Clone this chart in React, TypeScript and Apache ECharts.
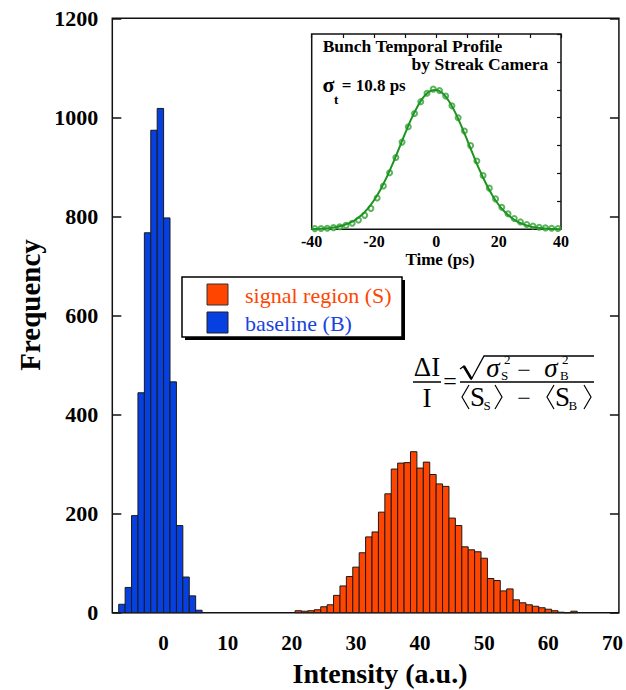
import React, { useEffect, useRef } from "react";
import * as echarts from "echarts";

// ---------- data ----------
const BIN_WIDTH = 1;
const baselineCenters = [-6.5, -5.5, -4.5, -3.5, -2.5, -1.5, -0.5, 0.5, 1.5, 2.5, 3.5, 4.5, 5.5];
const baselineCounts = [17, 51, 196, 444, 767, 974, 1018, 797, 466, 176, 72, 34, 5];

const signalCenters = [
  21, 22, 23, 24, 25, 26, 27, 28, 29, 30,
  31, 32, 33, 34, 35, 36, 37, 38, 39, 40,
  41, 42, 43, 44, 45, 46, 47, 48, 49, 50,
  51, 52, 53, 54, 55, 56, 57, 58, 59, 60,
  61, 62, 63, 64,
];
const signalCounts = [
  4, 3, 4, 6, 12, 16, 35, 54, 73, 92,
  121, 153, 163, 203, 240, 290, 302, 303, 325, 292,
  304, 279, 260, 255, 191, 176, 133, 127, 123, 110,
  69, 65, 44, 48, 26, 20, 16, 13, 10, 7,
  4, 1, 0, 3,
];

const xTickValues = [0, 10, 20, 30, 40, 50, 60, 70];

// inset: streak camera temporal profile (normalized)
const fitTimes = [
  -40, -38, -36, -34, -32, -30, -28, -26, -24, -22, -20, -18, -16, -14, -12, -10, -8, -6, -4, -2,
  0, 2, 4, 6, 8, 10, 12, 14, 16, 18, 20, 22, 24, 26, 28, 30, 32, 34, 36, 38, 40,
];
const fitValues = [
  0.002, 0.003, 0.006, 0.01, 0.017, 0.027, 0.044, 0.068, 0.102, 0.148, 0.208, 0.282, 0.37, 0.471,
  0.579, 0.689, 0.793, 0.882, 0.951, 0.991, 0.999, 0.975, 0.92, 0.84, 0.742, 0.634, 0.524, 0.419,
  0.325, 0.243, 0.176, 0.124, 0.084, 0.055, 0.035, 0.021, 0.013, 0.007, 0.004, 0.002, 0.001,
];
const measTimes = [
  -39, -37, -35, -33, -31, -29, -27, -25, -23, -21, -19, -17, -15, -13, -11, -9, -7, -5, -3, -1,
  1, 3, 5, 7, 9, 11, 13, 15, 17, 19, 21, 23, 25, 27, 29, 31, 33, 35, 37, 39,
];
const measValues = [
  0.005, 0.006, 0.008, 0.012, 0.018, 0.028, 0.043, 0.066, 0.1, 0.15, 0.225, 0.31, 0.405, 0.515,
  0.625, 0.735, 0.83, 0.915, 0.975, 1.005, 0.995, 0.955, 0.885, 0.8, 0.705, 0.6, 0.49, 0.385,
  0.295, 0.218, 0.158, 0.112, 0.078, 0.053, 0.035, 0.023, 0.015, 0.01, 0.007, 0.006,
];

// ---------- styling ----------
const SERIF = '"Liberation Serif", "Times New Roman", serif';
const ORANGE = "#ff4500";
const BLUE = "#0640e0";
const GREEN = "#1c9420";

function histRender(fill: string) {
  return (params: any, api: any) => {
    const c = api.value(0);
    const v = api.value(1);
    const p0 = api.coord([c - BIN_WIDTH / 2, 0]);
    const p1 = api.coord([c + BIN_WIDTH / 2, v]);
    return {
      type: "rect",
      shape: { x: p0[0], y: p1[1], width: p1[0] - p0[0], height: p0[1] - p1[1] },
      style: { fill, stroke: "#1a1a1a", lineWidth: 1 },
    };
  };
}

function txt(text: string, x: number, y: number, font: string, extra: any = {}) {
  return {
    type: "text",
    x,
    y,
    silent: true,
    z: 100,
    style: { text, font, fill: "#000", align: "center", verticalAlign: "middle", ...extra },
  };
}

function angle(x: number, open: boolean) {
  const pts = open
    ? [[x + 7, 385], [x, 397], [x + 7, 409]]
    : [[x, 385], [x + 7, 397], [x, 409]];
  return { type: "polyline", z: 100, shape: { points: pts }, style: { stroke: "#000", lineWidth: 1.2, fill: null } };
}

export default function App() {
  const ref = useRef<HTMLDivElement>(null);

  useEffect(() => {
    if (!ref.current) return;
    const chart = echarts.init(ref.current, null, { renderer: "svg" });

    const F = "27px " + SERIF;
    const FS = "13px " + SERIF;
    const FI = "italic 27px " + SERIF;
    const plain = (v: number) => String(v);

    const option: any = {
      animation: false,
      backgroundColor: "#fff",
      grid: [
        {
          left: 112.3,
          top: 18.3,
          width: 506.7,
          height: 594.4,
          show: true,
          borderColor: "#111",
          borderWidth: 1.5,
          backgroundColor: "#fff",
        },
        {
          left: 311.7,
          top: 34,
          width: 249.3,
          height: 195.3,
          show: true,
          borderColor: "#111",
          borderWidth: 1.5,
          backgroundColor: "#fff",
          z: 5,
        },
      ],
      xAxis: [
        {
          type: "value",
          gridIndex: 0,
          min: -8,
          max: 71,
          axisLine: { show: false, onZero: false },
          axisTick: { show: false },
          splitLine: { show: false },
          axisLabel: {
            customValues: xTickValues,
            formatter: plain,
            fontFamily: SERIF,
            fontWeight: "bold",
            fontSize: 21,
            color: "#000",
            margin: 20,
          },
        },
        {
          type: "value",
          gridIndex: 1,
          min: -40,
          max: 40,
          interval: 20,
          axisLine: { show: false, onZero: false },
          axisTick: { show: false },
          splitLine: { show: false },
          axisLabel: {
            formatter: plain,
            fontFamily: SERIF,
            fontWeight: "bold",
            fontSize: 16,
            color: "#000",
            margin: 4,
          },
          z: 6,
        },
        {
          type: "value",
          gridIndex: 1,
          position: "top",
          min: -40,
          max: 40,
          interval: 10,
          axisLine: { show: false, onZero: false },
          axisTick: { show: true, inside: true, length: 4, lineStyle: { color: "#111", width: 1.2 } },
          splitLine: { show: false },
          axisLabel: { show: false },
          z: 6,
        },
      ],
      yAxis: [
        {
          type: "value",
          gridIndex: 0,
          min: 0,
          max: 1200,
          interval: 200,
          axisLine: { show: false, onZero: false },
          axisTick: { show: true, inside: true, length: 9, lineStyle: { color: "#111", width: 1.5 } },
          splitLine: { show: false },
          axisLabel: {
            formatter: plain,
            fontFamily: SERIF,
            fontWeight: "bold",
            fontSize: 22,
            color: "#000",
            margin: 14,
          },
        },
        {
          type: "value",
          gridIndex: 0,
          position: "right",
          min: 0,
          max: 1200,
          interval: 200,
          axisLine: { show: false, onZero: false },
          axisTick: { show: true, inside: true, length: 9, lineStyle: { color: "#111", width: 1.5 } },
          splitLine: { show: false },
          axisLabel: { show: false },
        },
        {
          type: "value",
          gridIndex: 1,
          position: "right",
          min: 0,
          max: 1.4,
          interval: 0.2,
          axisLine: { show: false, onZero: false },
          axisTick: { show: true, inside: true, length: 4, lineStyle: { color: "#111", width: 1.2 } },
          splitLine: { show: false },
          axisLabel: { show: false },
          z: 6,
        },
      ],
      series: [
        {
          type: "custom",
          name: "baseline (B)",
          xAxisIndex: 0,
          yAxisIndex: 0,
          renderItem: histRender(BLUE),
          data: baselineCenters.map((c, i) => [c, baselineCounts[i]]),
          z: 2,
        },
        {
          type: "custom",
          name: "signal region (S)",
          xAxisIndex: 0,
          yAxisIndex: 0,
          renderItem: histRender(ORANGE),
          data: signalCenters.map((c, i) => [c, signalCounts[i]]),
          z: 2,
        },
        {
          type: "scatter",
          name: "measured",
          xAxisIndex: 1,
          yAxisIndex: 2,
          symbol: "emptyCircle",
          symbolSize: 5,
          itemStyle: { color: "#35a035", borderColor: "#35a035", borderWidth: 1 },
          data: measTimes.map((t, i) => [t, measValues[i]]),
          z: 7,
        },
        {
          type: "line",
          name: "fit",
          xAxisIndex: 1,
          yAxisIndex: 2,
          showSymbol: false,
          smooth: 0.3,
          lineStyle: { color: GREEN, width: 2 },
          data: fitTimes.map((t, i) => [t, fitValues[i]]),
          z: 8,
        },
      ],
      graphic: [
        // axis titles
        txt("Intensity (a.u.)", 380, 673, "bold 28px " + SERIF),
        { ...txt("Frequency", 30, 305, "bold 29px " + SERIF), rotation: Math.PI / 2 },
        // inset texts
        txt("Time (ps)", 440, 259, "bold 17px " + SERIF),
        txt("Bunch Temporal Profile", 322.7, 46, "bold 17.5px " + SERIF, { align: "left" }),
        txt("by Streak Camera", 548.3, 63.5, "bold 17.5px " + SERIF, { align: "right" }),
        txt("σ", 322.5, 84, "bold 22px " + SERIF, { align: "left" }),
        txt("t", 334, 99, "bold 13px " + SERIF, { align: "left" }),
        txt("= 10.8 ps", 341.7, 85, "bold 17px " + SERIF, { align: "left" }),
        // legend
        { type: "rect", z: 90, shape: { x: 185, y: 280, width: 220, height: 60 }, style: { fill: "#000" } },
        {
          type: "rect",
          z: 91,
          shape: { x: 182, y: 277, width: 220, height: 60 },
          style: { fill: "#fff", stroke: "#000", lineWidth: 1.5 },
        },
        { type: "rect", z: 92, shape: { x: 207, y: 284, width: 21, height: 21 }, style: { fill: ORANGE, stroke: "#333", lineWidth: 1 } },
        { type: "rect", z: 92, shape: { x: 207, y: 312, width: 21, height: 21 }, style: { fill: BLUE, stroke: "#222", lineWidth: 1 } },
        { ...txt("signal region (S)", 245, 295, "22px " + SERIF, { align: "left", fill: ORANGE }), z: 93 },
        { ...txt("baseline (B)", 245, 323, "22px " + SERIF, { align: "left", fill: "#1a44dd" }), z: 93 },
        // formula  ΔI / I = sqrt(σS² − σB²) / (<S_S> − <S_B>)
        txt("ΔI", 427, 367, F),
        { type: "line", z: 100, shape: { x1: 413, y1: 382, x2: 441, y2: 382 }, style: { stroke: "#000", lineWidth: 1.5 } },
        txt("I", 427, 398, F),
        txt("=", 450, 381, "24px " + SERIF),
        {
          type: "polyline",
          z: 100,
          shape: { points: [[460, 369], [464, 366], [471.5, 379], [484, 356], [594, 356]] },
          style: { stroke: "#000", lineWidth: 1.3, fill: null },
        },
        { type: "line", z: 100, shape: { x1: 464, y1: 366.5, x2: 471.5, y2: 379 }, style: { stroke: "#000", lineWidth: 2.6 } },
        txt("σ", 493, 368, FI),
        txt("2", 504, 359, FS, { align: "left" }),
        txt("S", 501, 375.5, FS, { align: "left" }),
        txt("−", 524, 370, "24px " + SERIF),
        txt("σ", 551, 368, FI),
        txt("2", 562, 359, FS, { align: "left" }),
        txt("B", 560, 375.5, FS, { align: "left" }),
        { type: "line", z: 100, shape: { x1: 460, y1: 382, x2: 594, y2: 382 }, style: { stroke: "#000", lineWidth: 1.5 } },
        angle(462, true),
        txt("S", 477.5, 397, F),
        txt("S", 483.5, 405, FS, { align: "left" }),
        angle(495, false),
        txt("−", 524, 398, "24px " + SERIF),
        angle(547, true),
        txt("S", 562.5, 397, F),
        txt("B", 568.5, 405, FS, { align: "left" }),
        angle(584, false),
      ],
    };

    chart.setOption(option);
    return () => chart.dispose();
  }, []);

  return (
    <div
      ref={ref}
      style={{ position: "fixed", left: 0, top: 0, width: 626, height: 690, background: "#fff" }}
    />
  );
}
